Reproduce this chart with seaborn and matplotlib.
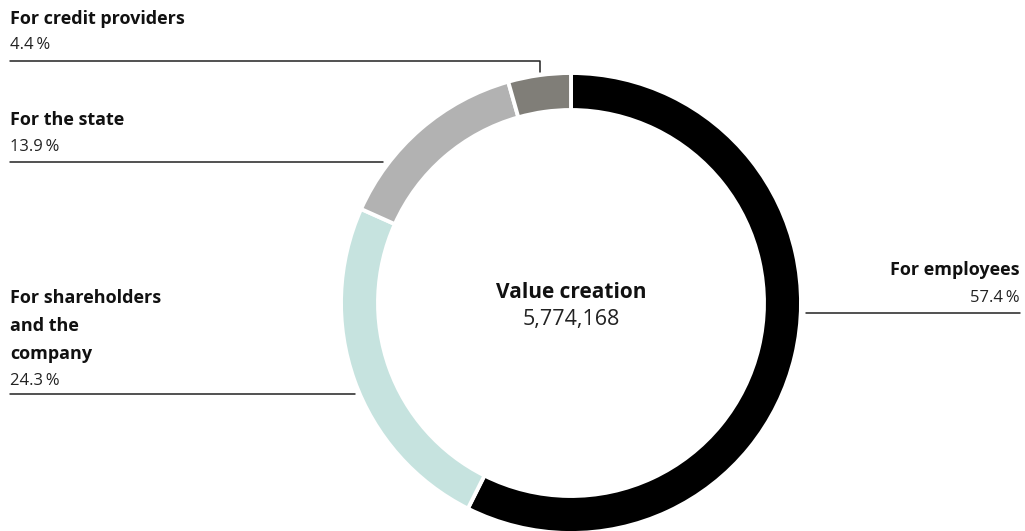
import matplotlib
matplotlib.use("Agg")
import matplotlib.pyplot as plt
import seaborn as sns

# DATA
categories = ["For employees", "For shareholders\nand the\ncompany", "For the state", "For credit providers"]
shares = [57.4, 24.3, 13.9, 4.4]
share_labels = ["57.4\u2009%", "24.3\u2009%", "13.9\u2009%", "4.4\u2009%"]
total_label = "5,774,168"
colors = ["#000000", "#c6e3df", "#b2b2b2", "#807e78"]

sns.set_theme(style="white")
plt.rcParams['font.family'] = ['Open Sans', 'DejaVu Sans']

W, H = 1025, 531
fig = plt.figure(figsize=(W / 100, H / 100), dpi=100)
ax = fig.add_axes([0, 0, 1, 1])

cx, cy, r = 571, H - 303, 230
ax.pie(shares, colors=colors, startangle=90, counterclock=False,
       center=(cx, cy), radius=r, frame=True,
       wedgeprops=dict(width=37, edgecolor="white", linewidth=2.8))
ax.set_xlim(0, W)
ax.set_ylim(0, H)
ax.set_aspect("equal")
ax.axis("off")

# centre text
ax.text(cx, H - 293, "Value creation", ha="center", va="center", fontsize=15, fontweight="bold", color="#111111")
ax.text(cx, H - 320, total_label, ha="center", va="center", fontsize=15.5, color="#222222")

lc = "#222222"
fs = 13      # bold labels
fp = 12      # percentages
# credit providers
ax.text(10, H - 19, categories[3], ha="left", va="center", fontsize=fs, fontweight="bold", color="#111111")
ax.text(10, H - 45, share_labels[3], ha="left", va="center", fontsize=fp, color="#222222")
ax.plot([10, 540, 540], [H - 61, H - 61, H - 72], color=lc, lw=1.1)
# state
ax.text(10, H - 120, categories[2], ha="left", va="center", fontsize=fs, fontweight="bold", color="#111111")
ax.text(10, H - 147, share_labels[2], ha="left", va="center", fontsize=fp, color="#222222")
ax.plot([10, 383], [H - 162, H - 162], color=lc, lw=1.1)
# shareholders
for i, line in enumerate(categories[1].split("\n")):
    ax.text(10, H - 298 - 28 * i, line, ha="left", va="center", fontsize=fs, fontweight="bold", color="#111111")
ax.text(10, H - 381, share_labels[1], ha="left", va="center", fontsize=fp, color="#222222")
ax.plot([10, 355], [H - 394, H - 394], color=lc, lw=1.1)
# employees
ax.text(1020, H - 270, categories[0], ha="right", va="center", fontsize=fs, fontweight="bold", color="#111111")
ax.text(1020, H - 298, share_labels[0], ha="right", va="center", fontsize=fp, color="#222222")
ax.plot([806, 1020], [H - 313, H - 313], color=lc, lw=1.1)

fig.savefig("out.png", dpi=100, facecolor="white")
